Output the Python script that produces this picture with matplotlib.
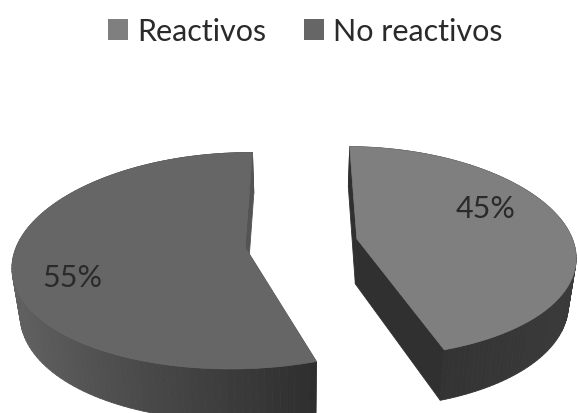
import numpy as np
import matplotlib
matplotlib.use('Agg')
import matplotlib.pyplot as plt
from matplotlib.patches import Patch, Polygon

plt.rcParams['font.family'] = ['Lato', 'DejaVu Sans']

labels = ['Reactivos', 'No reactivos']
shares = [45, 55]
top_colors = ['#7f7f7f', '#666666']
label_pos = [(486, 209), (72, 278)]

# view of the tilted pie, in pixels
CX, CY = 301.5, 244
FX, FY = 222, 105
PX, PY, QX = 0.15, 0.124, 0.016
EXPLODE = 0.255


def project(u, v):
    wx = 1 + PX * v + QX * u
    wy = 1 + PY * v + QX * u
    return CX + FX * u / wx, CY - FY * v / wy


def drop(x, y):
    # same outline on the underside of the pie
    return CX + 0.972 * (x - CX), 1.05 * y + 33


def side_shade(x, i):
    if i == 0:
        return np.interp(x, [345, 440, 578], [46, 51, 58])
    return np.interp(x, [15, 150, 316], [96, 72, 46])


fig = plt.figure(figsize=(5.78, 4.14), dpi=100)
ax = fig.add_axes([0, 0, 1, 1])
ax.set_xlim(0, 578)
ax.set_ylim(414, 0)
ax.axis('off')

start = 0.0
for i, share in enumerate(shares):
    sweep = share / sum(shares) * 2 * np.pi
    mid = start + sweep / 2
    ou, ov = EXPLODE * np.sin(mid), EXPLODE * np.cos(mid)
    t = np.linspace(start, start + sweep, 121)
    u = np.r_[ou, ou + np.sin(t)]
    v = np.r_[ov, ov + np.cos(t)]
    x, y = project(u, v)
    bx, by = drop(x, y)

    # sides: back edges first so the nearer ones paint over them
    n = len(x)
    quads = []
    for j in range(n):
        k = (j + 1) % n
        quads.append((by[j] + by[k], j, k))
    for _, j, k in sorted(quads):
        g = side_shade((x[j] + x[k]) / 2, i) / 255
        if j == 0 or k == 0:
            g = 48 / 255 if i == 0 else 84 / 255
        ax.add_patch(Polygon([(x[j], y[j]), (x[k], y[k]), (bx[k], by[k]), (bx[j], by[j])],
                             closed=True, fc=(g, g, g), ec=(g, g, g), lw=0.6))
    ax.add_patch(Polygon(np.c_[x, y], closed=True, fc=top_colors[i], ec=top_colors[i], lw=0.5))
    ax.text(label_pos[i][0], label_pos[i][1], f'{share}%', fontsize=22, color='#2a2a2a',
            ha='center', va='center')
    start += sweep

handles = [Patch(fc=c, ec='none') for c in top_colors]
ax.legend(handles, labels, loc='upper center', bbox_to_anchor=(0.528, 1.022), ncol=2, frameon=False,
          fontsize=22, handlelength=0.65, handleheight=0.65, handletextpad=0.3, columnspacing=1.25,
          labelcolor='#2a2a2a')

fig.savefig('out.png', dpi=100)
